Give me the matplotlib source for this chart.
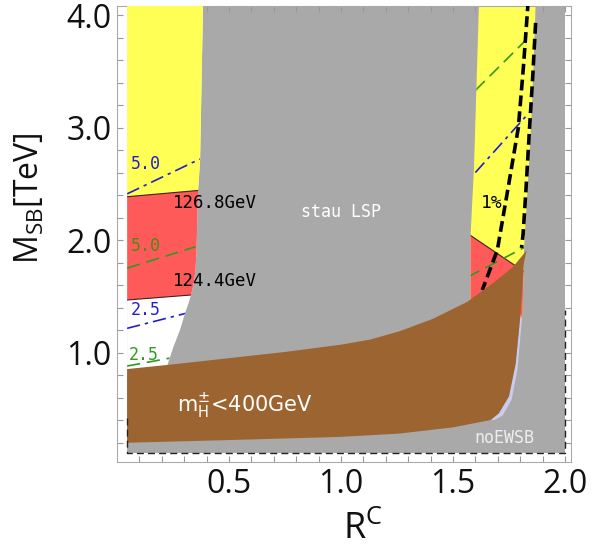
import matplotlib.pyplot as plt
import numpy as np
from matplotlib.patches import Polygon

plt.rcParams["font.family"] = ["Open Sans", "DejaVu Sans"]

# 軸の目盛り
x_ticks = [0.5, 1.0, 1.5, 2.0]
x_ticklabels = ["0.5", "1.0", "1.5", "2.0"]
y_ticks = [1.0, 2.0, 3.0, 4.0]
y_ticklabels = ["1.0", "2.0", "3.0", "4.0"]

# 計算領域 (R^C, M_SB)
x_lo, x_hi = 0.045, 2.0
y_lo, y_hi = 0.107, 4.09

# stau LSP 境界（左の許容領域の右端）
stau_x = [0.384, 0.371, 0.362, 0.355, 0.351, 0.345, 0.333, 0.318, 0.304,
          0.281, 0.252, 0.235, 0.222, 0.200]
stau_y = [4.09, 2.71, 2.44, 1.91, 1.75, 1.64, 1.53, 1.43, 1.35,
          1.20, 1.05, 0.95, 0.87, 0.80]

# 右の許容領域の左端・右端
right_lx = [1.579, 1.579, 1.594, 1.616]
right_ly = [1.30, 2.06, 2.65, 4.09]
right_rx = [1.869, 1.854, 1.839, 1.817, 1.810]
right_ry = [4.09, 3.24, 2.65, 1.91, 1.30]

# Higgs 質量の等高線
mh_high_x, mh_high_y = [0.045, 0.45], [2.385, 2.456]   # 126.8GeV (左)
mh_low_x, mh_low_y = [0.045, 0.45], [1.467, 1.530]     # 124.4GeV (左)
mh_high_rx, mh_high_ry = [1.50, 1.90], [2.146, 1.609]  # 126.8GeV (右)

# 微調整度の等高線
blue50_x, blue50_y = [0.045, 0.37], [2.41, 2.72]
green50_x, green50_y = [0.045, 0.35], [1.75, 1.94]
blue25_x, blue25_y = [0.045, 0.31], [1.215, 1.35]
green25_x, green25_y = [0.045, 0.235], [0.88, 0.95]
blue50_rx, blue50_ry = [1.60, 1.839], [2.60, 3.13]
green50_rx, green50_ry = [1.60, 1.827], [3.33, 3.78]
green25_rx, green25_ry = [1.565, 1.824], [1.67, 1.94]

# 1% の等高線（太い黒破線）
one_a_x = [1.836, 1.815, 1.792, 1.745, 1.698, 1.631]
one_a_y = [4.13, 3.55, 3.00, 2.45, 1.91, 1.556]
one_b_x = [1.869, 1.856, 1.842, 1.826, 1.813, 1.806]
one_b_y = [3.93, 3.45, 3.00, 2.45, 2.05, 1.93]

# m_H^± < 400GeV の領域
brown_top_x = [0.045, 0.25, 0.50, 0.75, 1.0, 1.13, 1.263, 1.411, 1.5625,
               1.679, 1.768, 1.83, 1.836]
brown_top_y = [0.853, 0.895, 0.95, 1.005, 1.07, 1.115, 1.19, 1.30, 1.449,
               1.618, 1.76, 1.911, 1.97]
brown_right_x = [1.817, 1.802, 1.780, 1.750, 1.705, 1.668]
brown_right_y = [1.80, 1.35, 0.90, 0.61, 0.46, 0.40]
brown_bot_x = [1.50, 1.263, 0.996, 0.50, 0.045]
brown_bot_y = [0.335, 0.28, 0.25, 0.222, 0.198]

# 薄青の領域
sliver_x = [1.668, 1.705, 1.750, 1.780, 1.802, 1.808, 1.788, 1.762, 1.722, 1.684]
sliver_y = [0.40, 0.46, 0.61, 0.90, 1.35, 1.30, 0.85, 0.58, 0.44, 0.40]

# noEWSB の破線枠
box_x = [0.045, 0.045, 2.0, 2.0]
box_y = [0.42, 0.107, 0.107, 1.38]

GRAY = "#a9a9a9"
YELLOW = "#ffff55"
RED = "#ff5a5a"
BROWN = "#9c6430"
BLUE = "#1f1fd0"
GREEN = "#2e9a1e"

fig = plt.figure(figsize=(5.92, 5.52), dpi=100)
ax = fig.add_axes([117 / 592, 1 - 462 / 552, 454 / 592, 456.3 / 552])
ax.set_xlim(0.0, 2.027)
ax.set_ylim(0.027, 4.083)

ax.fill([x_lo, x_hi, x_hi, x_lo], [y_lo, y_lo, y_hi, y_hi], color=GRAY, lw=0, zorder=1)

# 左の許容領域
left_pts = list(zip(stau_x, stau_y)) + [(x_lo, 0.80), (x_lo, y_hi)]
left_reg = Polygon(left_pts, closed=True, fc="white", ec="none", zorder=2)
ax.add_patch(left_reg)

# 右の許容領域
right_pts = list(zip(right_lx, right_ly)) + list(zip(right_rx, right_ry))
right_reg = Polygon(right_pts, closed=True, fc=YELLOW, ec="none", zorder=2)
ax.add_patch(right_reg)


def clipped_fill(xs, ys, color, region):
    p = Polygon(list(zip(xs, ys)), closed=True, fc=color, ec="none", zorder=3)
    ax.add_patch(p)
    p.set_clip_path(region)


def clipped_line(xs, ys, region, **kw):
    (ln,) = ax.plot(xs, ys, zorder=4, **kw)
    ln.set_clip_path(region)


# 左: 黄色・赤
clipped_fill(mh_high_x + mh_high_x[::-1], mh_high_y + [y_hi, y_hi], YELLOW, left_reg)
clipped_fill(mh_high_x + mh_low_x[::-1], mh_high_y + mh_low_y[::-1], RED, left_reg)
clipped_line(mh_high_x, mh_high_y, left_reg, color="#402020", lw=0.8)
clipped_line(mh_low_x, mh_low_y, left_reg, color="#402020", lw=0.8)

# 右: 赤
clipped_fill(mh_high_rx + mh_high_rx[::-1], mh_high_ry + [0.5, 0.5], RED, right_reg)
clipped_line(mh_high_rx, mh_high_ry, right_reg, color="#402020", lw=0.8)

# 等高線
dashdot = dict(color=BLUE, lw=1.2, dashes=(8, 3, 2, 3))
dashed = dict(color=GREEN, lw=1.2, dashes=(8, 4))
clipped_line(blue50_x, blue50_y, left_reg, **dashdot)
clipped_line(blue25_x, blue25_y, left_reg, **dashdot)
clipped_line(green50_x, green50_y, left_reg, **dashed)
clipped_line(green25_x, green25_y, left_reg, **dashed)
clipped_line(blue50_rx, blue50_ry, right_reg, **dashdot)
clipped_line(green50_rx, green50_ry, right_reg, **dashed)
clipped_line(green25_rx, green25_ry, right_reg, **dashed)

ax.plot(one_a_x, one_a_y, color="black", lw=2.6, dashes=(3, 1.4), zorder=5)
ax.plot(one_b_x, one_b_y, color="black", lw=2.6, dashes=(3, 1.4), zorder=5)

# 茶色の領域
ax.fill(sliver_x, sliver_y, color="#c8cdf0", lw=0, zorder=5)
ax.fill(brown_top_x + brown_right_x + brown_bot_x,
        brown_top_y + brown_right_y + brown_bot_y, color=BROWN, lw=0, zorder=6)

ax.plot(box_x, box_y, color="#222222", lw=1.0, dashes=(5, 3), zorder=7)

# ラベル
mono = "DejaVu Sans Mono"
ax.text(0.25, 2.33, "126.8GeV", family=mono, fontsize=12.5, color="black",
        ha="left", va="center", zorder=8)
ax.text(0.25, 1.64, "124.4GeV", family=mono, fontsize=12.5, color="black",
        ha="left", va="center", zorder=8)
ax.text(1.0, 2.25, "stau LSP", family=mono, fontsize=12, color="white",
        ha="center", va="center", zorder=8)
ax.text(1.673, 2.33, "1%", family=mono, fontsize=13, color="black",
        ha="center", va="center", zorder=8)
ax.text(1.73, 0.24, "noEWSB", family=mono, fontsize=12, color="#eeeeee",
        ha="center", va="center", zorder=8)
ax.text(0.57, 0.52, r"m$_{\mathregular{H}}^{\mathregular{\pm}}$<400GeV",
        family="DejaVu Sans", fontsize=15, color="white", ha="center",
        va="center", zorder=8)
ax.text(0.128, 2.68, "5.0", family=mono, fontsize=12, color=BLUE, ha="center", va="center", zorder=8)
ax.text(0.128, 1.95, "5.0", family=mono, fontsize=12, color="#4a8a10", ha="center", va="center", zorder=8)
ax.text(0.128, 1.38, "2.5", family=mono, fontsize=12, color=BLUE, ha="center", va="center", zorder=8)
ax.text(0.12, 0.98, "2.5", family=mono, fontsize=12, color=GREEN, ha="center", va="center", zorder=8)

# 軸
ax.set_xticks(x_ticks)
ax.set_xticklabels(x_ticklabels)
ax.set_xticks(np.arange(0.1, 2.01, 0.1), minor=True)
ax.set_yticks(y_ticks)
ax.set_yticklabels(y_ticklabels)
ax.set_yticks(np.arange(0.2, 4.01, 0.2), minor=True)
ax.tick_params(which="both", direction="in", top=True, right=True,
               length=4, width=0.8, color="#999999")
ax.tick_params(which="major", labelsize=23, pad=4, labelcolor="#111111")
for s in ax.spines.values():
    s.set_color("#aaaaaa")
    s.set_linewidth(0.8)

fig.text(30 / 592, 1 - 198 / 552, r"M$_{\mathregular{SB}}$[TeV]", rotation=90,
         fontsize=23, ha="center", va="center", color="#111111")
fig.text(363 / 592, 1 - 530 / 552, r"R$^{\mathregular{C}}$", fontsize=26,
         ha="center", va="center", color="#111111")

fig.savefig("out.png", dpi=100)
